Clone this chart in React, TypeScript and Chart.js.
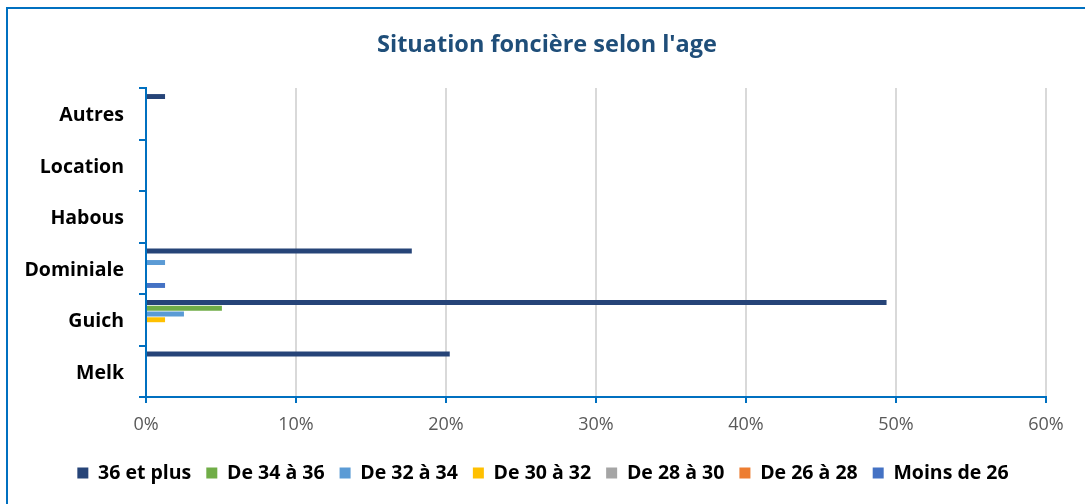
import React, { useEffect, useRef } from "react";
import { Chart, registerables } from "chart.js";

Chart.register(...registerables);

const categories = ["Autres", "Location", "Habous", "Dominiale", "Guich", "Melk"];
const seriesNames = ["36 et plus", "De 34 à 36", "De 32 à 34", "De 30 à 32", "De 28 à 30", "De 26 à 28", "Moins de 26"];
const seriesColors = ["#264478", "#70AD47", "#5B9BD5", "#FFC000", "#A5A5A5", "#ED7D31", "#4472C4"];
const s36etPlus = [1.27, 0, 0, 17.72, 49.37, 20.25];
const s34a36 = [0, 0, 0, 0, 5.06, 0];
const s32a34 = [0, 0, 0, 1.27, 2.53, 0];
const s30a32 = [0, 0, 0, 0, 1.27, 0];
const s28a30 = [0, 0, 0, 0, 0, 0];
const s26a28 = [0, 0, 0, 0, 0, 0];
const sMoins26 = [0, 0, 0, 1.27, 0, 0];
const seriesValues = [s36etPlus, s34a36, s32a34, s30a32, s28a30, s26a28, sMoins26];
const xTicks = [0, 10, 20, 30, 40, 50, 60];

const FONT = "'Open Sans', sans-serif";
const BLUE = "#0070C0";

const shiftBoxes = {
  id: "shiftBoxes",
  afterLayout(chart: any) {
    const t = chart.titleBlock;
    if (t) {
      t.left += 24;
      t.right += 24;
    }
    const l = chart.legend;
    if (l) {
      l.left += 20;
      l.right += 20;
    }
  },
};

export default function App() {
  const ref = useRef<HTMLCanvasElement | null>(null);
  useEffect(() => {
    if (!ref.current) return;
    const chart = new Chart(ref.current, {
      type: "bar",
      data: {
        labels: categories,
        datasets: seriesNames.map((name, i) => ({
          label: name,
          data: seriesValues[i],
          backgroundColor: seriesColors[i],
          borderWidth: 0,
          categoryPercentage: 0.78,
          barPercentage: 0.86,
        })),
      },
      plugins: [shiftBoxes],
      options: {
        indexAxis: "y",
        animation: false,
        responsive: false,
        maintainAspectRatio: false,
        layout: { padding: { left: 0, right: 39, top: 0, bottom: 11.25 } },
        plugins: {
          tooltip: { enabled: false },
          title: {
            display: true,
            text: "Situation foncière selon l'age",
            color: "#1F4E79",
            font: { family: FONT, size: 23.5, weight: "bold" },
            padding: { top: 30.9, bottom: 28.9 },
          },
          legend: {
            position: "bottom",
            labels: {
              color: "#000000",
              font: { family: FONT, size: 19.5, weight: "bold" },
              boxWidth: 11,
              boxHeight: 11,
              padding: 15,
            },
          },
        },
        scales: {
          x: {
            min: 0,
            max: 60,
            afterBuildTicks: (scale: any) => {
              scale.ticks = xTicks.map((v) => ({ value: v }));
            },
            afterFit: (scale: any) => {
              scale.height = 51.25;
            },
            ticks: {
              color: "#595959",
              font: { family: FONT, size: 18 },
              padding: 11.5,
              callback: (v: any) => v + "%",
            },
            grid: {
              color: "#D9D9D9",
              lineWidth: 2,
              tickColor: BLUE,
              tickLength: 6,
              tickWidth: 2,
            },
            border: { color: BLUE, width: 2 },
          },
          y: {
            afterFit: (scale: any) => {
              scale.width = 146;
            },
            ticks: {
              color: "#000000",
              font: { family: FONT, size: 19.5, weight: "bold" },
              padding: 15,
              labelOffset: 2,
            },
            grid: {
              offset: true,
              drawOnChartArea: false,
              color: BLUE,
              lineWidth: 2,
              tickLength: 7,
            },
            border: { color: BLUE, width: 2 },
          },
        },
      },
    });
    return () => chart.destroy();
  }, []);
  return (
    <div style={{ position: "fixed", left: 0, top: 0, width: 1085, height: 504, overflow: "hidden", background: "#ffffff" }}>
      <div style={{ position: "absolute", left: 6, top: 7, width: 1200, height: 600, border: `2px solid ${BLUE}`, boxSizing: "border-box" }} />
      <canvas ref={ref} width={1085} height={504} style={{ position: "absolute", left: 0, top: 0, width: 1085, height: 504 }} />
    </div>
  );
}
